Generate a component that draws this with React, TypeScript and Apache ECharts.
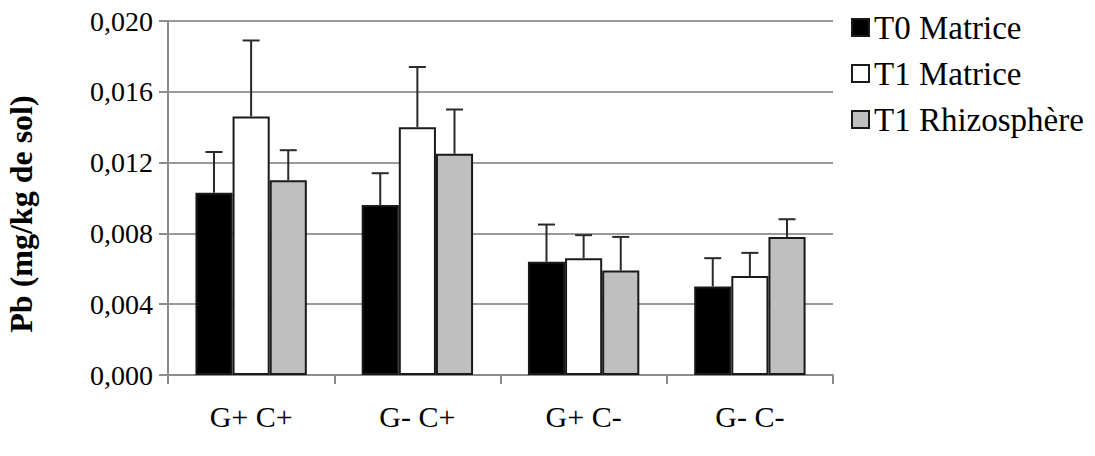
import React, { useEffect, useRef } from "react";
import * as echarts from "echarts";

const categories = ["G+ C+", "G- C+", "G+ C-", "G- C-"];
const seriesNames = ["T0 Matrice", "T1 Matrice", "T1 Rhizosphère"];
const t0Matrice = [0.0103, 0.0096, 0.0064, 0.005];
const t1Matrice = [0.0146, 0.014, 0.0066, 0.0056];
const t1Rhizo = [0.011, 0.0125, 0.0059, 0.0078];
const t0MatriceErrTop = [0.0126, 0.0114, 0.0085, 0.0066];
const t1MatriceErrTop = [0.0189, 0.0174, 0.0079, 0.0069];
const t1RhizoErrTop = [0.0127, 0.015, 0.0078, 0.0088];
const yTicks = { min: 0, max: 0.02, interval: 0.004 };
const yTitle = "Pb (mg/kg de sol)";

const FONT = "'Liberation Serif', 'Times New Roman', serif";
const CAT_GAP = 0.33;

export default function App() {
  const ref = useRef<HTMLDivElement>(null);
  useEffect(() => {
    if (!ref.current) return;
    const chart = echarts.init(ref.current, undefined, { renderer: "svg" });
    const values = [t0Matrice, t1Matrice, t1Rhizo];
    const errs = [t0MatriceErrTop, t1MatriceErrTop, t1RhizoErrTop];
    const colors = ["#000000", "#ffffff", "#bfbfbf"];
    const barSeries = values.map((v, i) => ({
      name: seriesNames[i],
      type: "bar",
      data: v,
      barGap: "0%",
      barCategoryGap: "33%",
      itemStyle: { color: colors[i], borderColor: "#1a1a1a", borderWidth: 2 },
    }));
    const errSeries = errs.map((e, i) => ({
      type: "custom",
      data: e.map((top, j) => [j, values[i][j], top]),
      z: 5,
      renderItem: (params: any, api: any) => {
        const base = api.coord([api.value(0), api.value(1)]);
        const top = api.coord([api.value(0), api.value(2)]);
        const band = api.size([1, 0])[0];
        const barW = (band * (1 - CAT_GAP)) / 3;
        const cx = base[0] + (i - 1) * barW;
        const style = { stroke: "#2a2a2a", lineWidth: 2 };
        return {
          type: "group",
          children: [
            { type: "line", shape: { x1: cx, y1: base[1], x2: cx, y2: top[1] }, style },
            { type: "line", shape: { x1: cx - 8.5, y1: top[1], x2: cx + 8.5, y2: top[1] }, style },
          ],
        };
      },
    }));
    chart.setOption({
      animation: false,
      textStyle: { fontFamily: FONT },
      grid: { left: 168, right: 262, top: 21, bottom: 81, containLabel: false },
      legend: {
        orient: "vertical",
        left: 846,
        top: 6,
        icon: "rect",
        itemWidth: 17,
        itemHeight: 17,
        itemGap: 13,
        data: seriesNames,
        textStyle: { fontFamily: FONT, fontSize: 33, color: "#000" },
      },
      xAxis: {
        type: "category",
        data: categories,
        axisLine: { lineStyle: { color: "#8c8c8c", width: 2 } },
        axisTick: { show: true, length: 9, lineStyle: { color: "#8c8c8c", width: 2 } },
        axisLabel: { fontFamily: FONT, fontSize: 30, color: "#000", margin: 26 },
      },
      yAxis: {
        type: "value",
        min: yTicks.min,
        max: yTicks.max,
        interval: yTicks.interval,
        axisLine: { show: true, lineStyle: { color: "#8c8c8c", width: 2 } },
        axisTick: { show: true, length: 9, lineStyle: { color: "#8c8c8c", width: 2 } },
        splitLine: { lineStyle: { color: "#9a9a9a", width: 2 } },
        axisLabel: {
          fontFamily: FONT,
          fontSize: 28,
          color: "#000",
          margin: 15,
          formatter: (v: number) => v.toFixed(3).replace(".", ","),
        },
      },
      graphic: [
        {
          type: "text",
          x: 21,
          y: 214,
          rotation: Math.PI / 2,
          style: {
            text: yTitle,
            font: `bold 32px ${FONT}`,
            fill: "#000",
            textAlign: "center",
            textVerticalAlign: "middle",
          },
        },
      ],
      series: [...barSeries, ...errSeries],
    });
    return () => chart.dispose();
  }, []);
  return (
    <div
      ref={ref}
      style={{ position: "absolute", left: 0, top: 0, width: 1095, height: 456, background: "#fff" }}
    />
  );
}
